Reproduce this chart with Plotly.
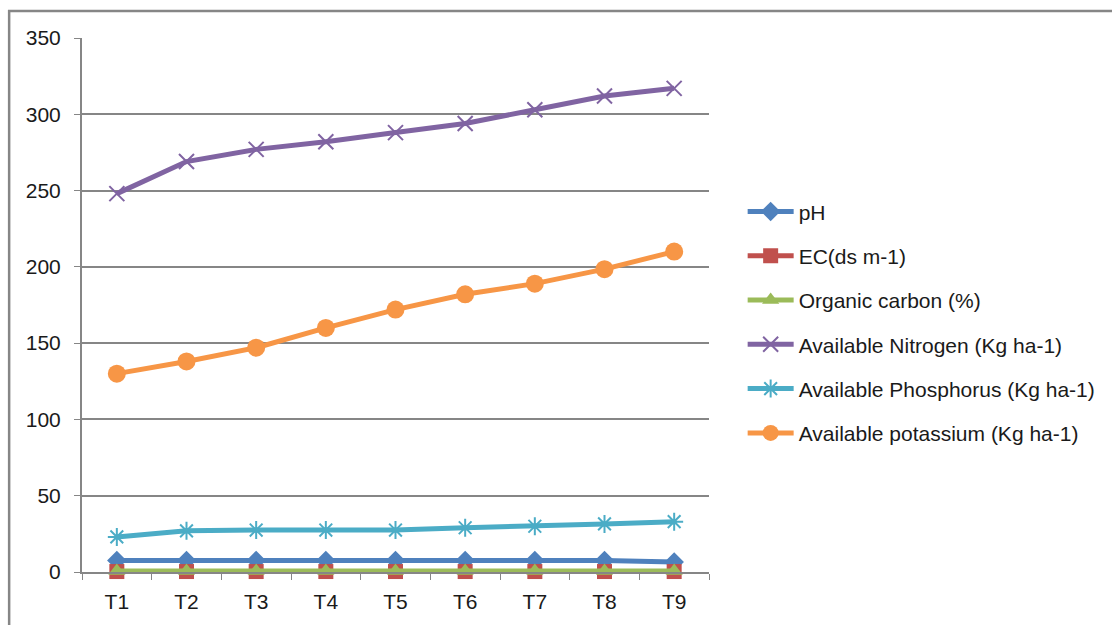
import plotly.graph_objects as go

treatments = ["T1", "T2", "T3", "T4", "T5", "T6", "T7", "T8", "T9"]
ph = [7.6, 7.6, 7.6, 7.6, 7.5, 7.5, 7.5, 7.5, 6.6]
ec = [0.3, 0.3, 0.3, 0.3, 0.3, 0.3, 0.3, 0.3, 0.3]
oc = [0.6, 0.6, 0.6, 0.6, 0.6, 0.6, 0.6, 0.6, 0.6]
nitrogen = [248, 269, 277, 282, 288, 294, 303, 312, 317]
phosphorus = [23, 27, 27.5, 27.5, 27.5, 29, 30, 31.5, 33]
potassium = [130, 138, 147, 160, 172, 182, 189, 198.5, 210]
y_ticks = [0, 50, 100, 150, 200, 250, 300, 350]

series = [
    ("pH", ph, "#4F81BD", "diamond", 15, 0),
    ("EC(ds m-1)", ec, "#C0504D", "square", 15, 0),
    ("Organic carbon (%)", oc, "#9BBB59", "triangle-up", 15, 0),
    ("Available Nitrogen (Kg ha-1)", nitrogen, "#8064A2", "x-thin-open", 15, 2),
    ("Available Phosphorus (Kg ha-1)", phosphorus, "#4BACC6", "asterisk-open", 15, 2),
    ("Available potassium (Kg ha-1)", potassium, "#F79646", "circle", 18, 0),
]

fig = go.Figure()
for i, (name, vals, col, sym, size, lw) in enumerate(series):
    fig.add_trace(go.Scatter(
        x=treatments, y=vals, name=name, mode="lines+markers",
        line=dict(color=col, width=5),
        marker=dict(symbol=sym, size=size, color=col, line=dict(color=col, width=lw)),
        legendgroup=f"g{i}", cliponaxis=False,
    ))

fig.update_layout(
    width=1112, height=625,
    margin=dict(l=82, r=402, t=38, b=53),
    paper_bgcolor="white", plot_bgcolor="white",
    font=dict(family="Liberation Sans, Arial, sans-serif", size=21, color="#1a1a1a"),
    showlegend=True,
    legend=dict(x=1.052, y=0.713, xanchor="left", yanchor="top",
                tracegroupgap=14, font=dict(size=21), itemwidth=46,
                bgcolor="rgba(0,0,0,0)"),
    xaxis=dict(type="category", range=[-0.5, 8.5], tickson="boundaries",
               ticks="outside", ticklen=6, tickcolor="#868686",
               showline=True, linecolor="#868686", linewidth=2,
               showgrid=False, tickfont=dict(size=21), ticklabelstandoff=10),
    yaxis=dict(range=[0, 350], tickvals=y_ticks, ticks="outside", ticklen=6,
               tickcolor="#868686", showline=True, linecolor="#868686", linewidth=2,
               showgrid=True, gridcolor="#868686", gridwidth=2,
               zeroline=False, tickfont=dict(size=21), ticklabelstandoff=9),
    shapes=[dict(type="rect", xref="paper", yref="paper",
                 x0=-0.1162, x1=2, y0=-1, y1=1.0506,
                 line=dict(color="#868686", width=2.5), fillcolor="rgba(0,0,0,0)",
                 layer="below")],
)

fig.write_html("out.html")
